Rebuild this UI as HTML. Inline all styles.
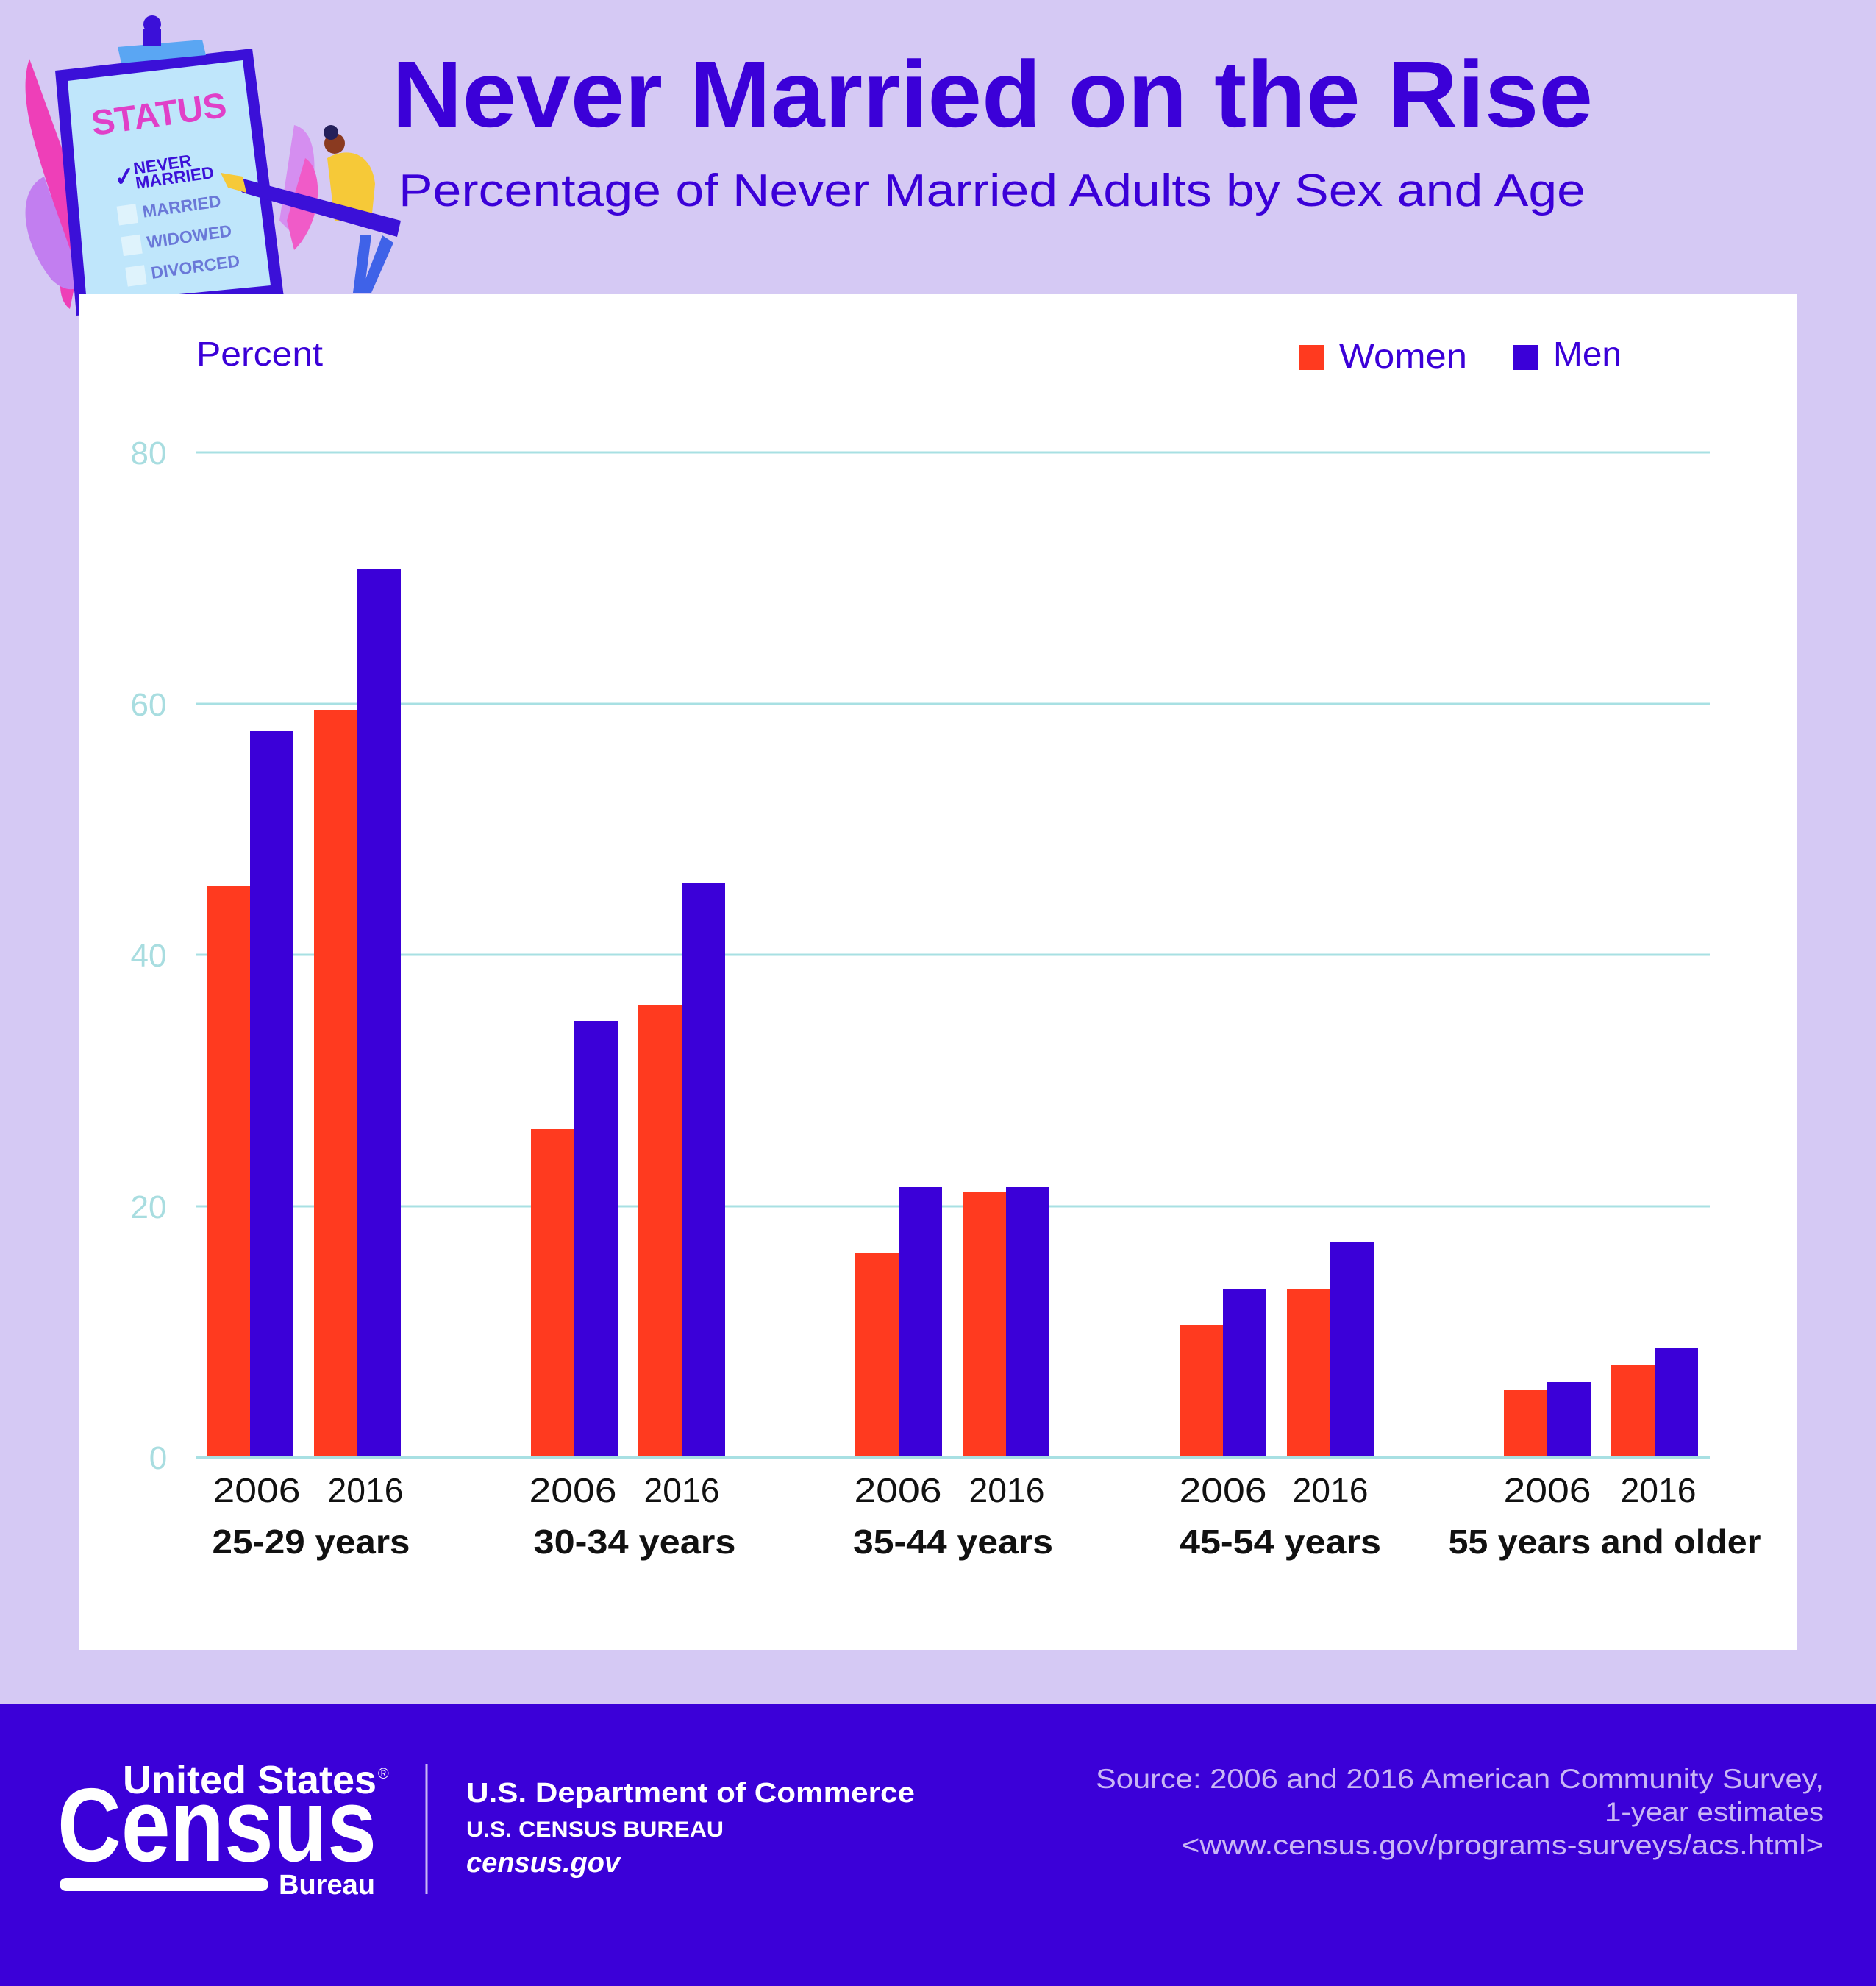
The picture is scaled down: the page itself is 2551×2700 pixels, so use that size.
<!DOCTYPE html>
<html><head><meta charset="utf-8"><style>
html,body{margin:0;padding:0;background:#d5c9f4}
svg{display:block}
</style></head><body>
<svg width="2551" height="2700" viewBox="0 0 2551 2700" xmlns="http://www.w3.org/2000/svg" font-family="Liberation Sans, sans-serif">
<rect width="2551" height="2700" fill="#d5c9f4"/>
<!-- illustration -->
<path d="M40,80 C20,140 60,230 80,300 C90,360 70,400 95,420 L120,300 Z" fill="#ee3fb8"/>
<path d="M60,240 C20,260 30,330 70,380 C90,400 110,395 110,380 Z" fill="#c27ef0"/>
<path d="M400,170 C440,180 430,260 410,330 L380,300 Z" fill="#d58ef0"/>
<path d="M415,215 C440,230 440,300 400,340 L390,300 Z" fill="#f05bc8"/>
<polygon points="75,96 343,66 386,404 104,429" fill="#3b10d8"/>
<polygon points="92,110 330,82 368,388 118,412" fill="#bfe6fb"/>
<polygon points="160,64 275,54 280,75 165,86" fill="#5aa6f3"/>
<circle cx="207" cy="33" r="12" fill="#3b10d8"/>
<rect x="195" y="40" width="24" height="22" fill="#3b10d8"/>
<g transform="rotate(-8 230 200)" font-weight="bold">
<text x="130" y="170" font-size="48" fill="#e040c8">STATUS</text>
<text x="178" y="230" font-size="23" fill="#3b10d8">NEVER</text>
<text x="178" y="250" font-size="23" fill="#3b10d8">MARRIED</text>
<text x="150" y="243" font-size="34" fill="#3b10d8">✓</text>
<text x="182" y="290" font-size="23" fill="#6a78d8">MARRIED</text>
<text x="182" y="332" font-size="23" fill="#6a78d8">WIDOWED</text>
<text x="182" y="374" font-size="23" fill="#6a78d8">DIVORCED</text>
<rect x="148" y="270" width="26" height="26" fill="#dff3fc"/>
<rect x="148" y="312" width="26" height="26" fill="#dff3fc"/>
<rect x="148" y="354" width="26" height="26" fill="#dff3fc"/>
</g>
<polygon points="520,320 535,330 505,398 490,398" fill="#3f62e8"/>
<polygon points="490,320 505,320 495,398 480,398" fill="#3f62e8"/>
<path d="M445,215 C470,200 505,205 510,250 L505,300 L455,300 Z" fill="#f6c938"/>
<circle cx="455" cy="195" r="14" fill="#8a3a20"/>
<circle cx="450" cy="180" r="10" fill="#24205a"/>
<polygon points="300,235 545,300 540,322 330,262" fill="#3b10d8"/>
<polygon points="300,235 330,240 335,262 310,255" fill="#f6c938"/>
<!-- white panel -->
<rect x="108" y="400" width="2335" height="1843" fill="#ffffff"/>
<!-- title -->
<text x="533" y="172" font-size="128" font-weight="bold" fill="#3b00d8" textLength="1633" lengthAdjust="spacingAndGlyphs">Never Married on the Rise</text>
<text x="542" y="280" font-size="62" fill="#3b00d8" textLength="1614" lengthAdjust="spacingAndGlyphs">Percentage of Never Married Adults by Sex and Age</text>
<text x="267" y="497" font-size="46" fill="#3b00d8" textLength="172" lengthAdjust="spacingAndGlyphs">Percent</text>
<rect x="1767" y="469" width="34" height="34" fill="#ff3a1f"/>
<text x="1821" y="500" font-size="46" fill="#3b00d8" textLength="174" lengthAdjust="spacingAndGlyphs">Women</text>
<rect x="2058" y="469" width="34" height="34" fill="#3b00d8"/>
<text x="2112" y="497" font-size="46" fill="#3b00d8" textLength="93" lengthAdjust="spacingAndGlyphs">Men</text>
<!-- grid -->
<g stroke="#a8e0e3" stroke-width="3">
<line x1="267" y1="615" x2="2325" y2="615"/>
<line x1="267" y1="957" x2="2325" y2="957"/>
<line x1="267" y1="1298" x2="2325" y2="1298"/>
<line x1="267" y1="1640" x2="2325" y2="1640"/>
</g>
<g font-size="44" fill="#a8dde0" text-anchor="middle">
<text x="202" y="631">80</text><text x="202" y="973">60</text><text x="202" y="1314">40</text><text x="202" y="1656">20</text><text x="215" y="1997">0</text>
</g>
<g>
<rect x="281" y="1204" width="59" height="777" fill="#ff3a1f"/>
<rect x="340" y="994" width="59" height="987" fill="#3b00d8"/>
<rect x="427" y="965" width="59" height="1016" fill="#ff3a1f"/>
<rect x="486" y="773" width="59" height="1208" fill="#3b00d8"/>

<rect x="722" y="1535" width="59" height="446" fill="#ff3a1f"/>
<rect x="781" y="1388" width="59" height="593" fill="#3b00d8"/>
<rect x="868" y="1366" width="59" height="615" fill="#ff3a1f"/>
<rect x="927" y="1200" width="59" height="781" fill="#3b00d8"/>

<rect x="1163" y="1704" width="59" height="277" fill="#ff3a1f"/>
<rect x="1222" y="1614" width="59" height="367" fill="#3b00d8"/>
<rect x="1309" y="1621" width="59" height="360" fill="#ff3a1f"/>
<rect x="1368" y="1614" width="59" height="367" fill="#3b00d8"/>

<rect x="1604" y="1802" width="59" height="179" fill="#ff3a1f"/>
<rect x="1663" y="1752" width="59" height="229" fill="#3b00d8"/>
<rect x="1750" y="1752" width="59" height="229" fill="#ff3a1f"/>
<rect x="1809" y="1689" width="59" height="292" fill="#3b00d8"/>

<rect x="2045" y="1890" width="59" height="91" fill="#ff3a1f"/>
<rect x="2104" y="1879" width="59" height="102" fill="#3b00d8"/>
<rect x="2191" y="1856" width="59" height="125" fill="#ff3a1f"/>
<rect x="2250" y="1832" width="59" height="149" fill="#3b00d8"/>
</g>
<line x1="267" y1="1981" x2="2325" y2="1981" stroke="#a8e0e3" stroke-width="4"/>
<g font-size="46" fill="#111" text-anchor="middle" lengthAdjust="spacingAndGlyphs">
<text x="349" y="2042" textLength="119" lengthAdjust="spacingAndGlyphs">2006</text><text x="497" y="2042" textLength="103" lengthAdjust="spacingAndGlyphs">2016</text>
<text x="779" y="2042" textLength="119" lengthAdjust="spacingAndGlyphs">2006</text><text x="927" y="2042" textLength="103" lengthAdjust="spacingAndGlyphs">2016</text>
<text x="1221" y="2042" textLength="119" lengthAdjust="spacingAndGlyphs">2006</text><text x="1369" y="2042" textLength="103" lengthAdjust="spacingAndGlyphs">2016</text>
<text x="1663" y="2042" textLength="119" lengthAdjust="spacingAndGlyphs">2006</text><text x="1809" y="2042" textLength="103" lengthAdjust="spacingAndGlyphs">2016</text>
<text x="2104" y="2042" textLength="119" lengthAdjust="spacingAndGlyphs">2006</text><text x="2255" y="2042" textLength="103" lengthAdjust="spacingAndGlyphs">2016</text>
</g>
<g font-size="46" font-weight="bold" fill="#111" text-anchor="middle">
<text x="423" y="2112" textLength="269" lengthAdjust="spacingAndGlyphs">25-29 years</text>
<text x="863" y="2112" textLength="275" lengthAdjust="spacingAndGlyphs">30-34 years</text>
<text x="1296" y="2112" textLength="272" lengthAdjust="spacingAndGlyphs">35-44 years</text>
<text x="1741" y="2112" textLength="274" lengthAdjust="spacingAndGlyphs">45-54 years</text>
<text x="2182" y="2112" textLength="425" lengthAdjust="spacingAndGlyphs">55 years and older</text>
</g>
<!-- footer -->
<rect x="0" y="2317" width="2551" height="383" fill="#3b00d8"/>
<text x="167" y="2438" font-size="54" font-weight="bold" fill="#fff" textLength="345" lengthAdjust="spacingAndGlyphs">United States</text>
<text x="514" y="2418" font-size="20" fill="#fff">®</text>
<text x="78" y="2530" font-size="142" font-weight="bold" fill="#fff" textLength="434" lengthAdjust="spacingAndGlyphs">Census</text>
<rect x="81" y="2553" width="284" height="18" rx="9" fill="#fff"/>
<text x="379" y="2575" font-size="38" font-weight="bold" fill="#fff">Bureau</text>
<line x1="580" y1="2398" x2="580" y2="2575" stroke="#c9b6f5" stroke-width="3"/>
<text x="634" y="2450" font-size="38" font-weight="bold" fill="#fff" textLength="610" lengthAdjust="spacingAndGlyphs">U.S. Department of Commerce</text>
<text x="634" y="2497" font-size="30" font-weight="bold" fill="#fff" textLength="350" lengthAdjust="spacingAndGlyphs">U.S. CENSUS BUREAU</text>
<text x="634" y="2545" font-size="38" font-weight="bold" font-style="italic" fill="#fff">census.gov</text>
<g font-size="37" fill="#c9b6f5" text-anchor="end">
<text x="2480" y="2431" textLength="990" lengthAdjust="spacingAndGlyphs">Source: 2006 and 2016 American Community Survey,</text>
<text x="2480" y="2476" textLength="298" lengthAdjust="spacingAndGlyphs">1-year estimates</text>
<text x="2480" y="2521" textLength="873" lengthAdjust="spacingAndGlyphs">&lt;www.census.gov/programs-surveys/acs.html&gt;</text>
</g>
</svg>
</body></html>
